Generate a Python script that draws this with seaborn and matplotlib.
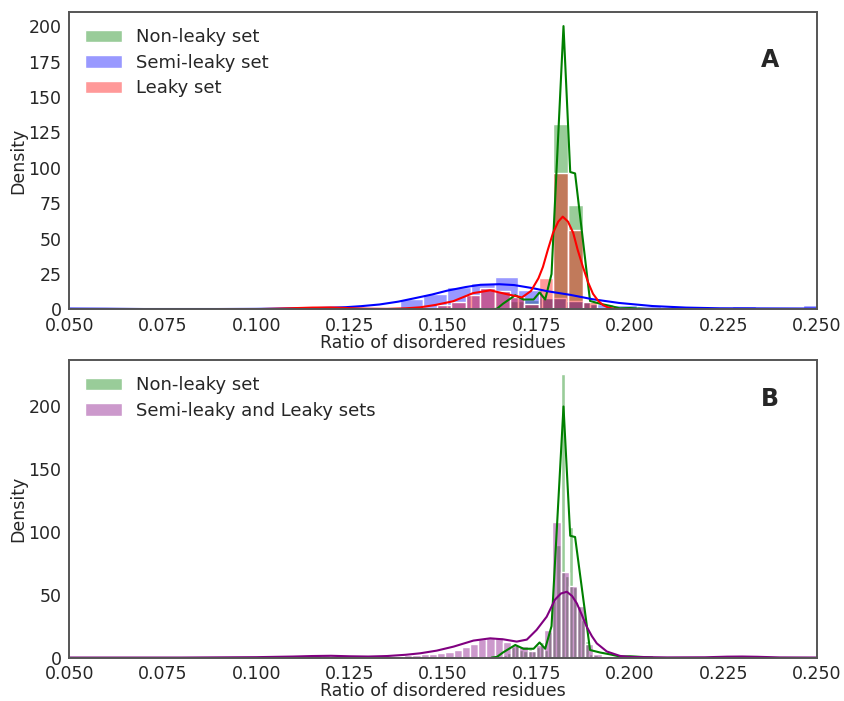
import numpy as np
import pandas as pd
import seaborn as sns
import matplotlib
matplotlib.use("Agg")
import matplotlib.pyplot as plt
from matplotlib.ticker import MultipleLocator

# ---- histogram bins (start, width) and bar heights ----
# Panel A
GREEN_A_START, GREEN_A_W = 0.1639, 0.0039
GREEN_A_H = [2, 6, 7, 8, 131, 74, 5, 2, 1, 0.5]

BLUE_A_START, BLUE_A_W = 0.0495, 0.00635
BLUE_A_H = [1, 0, 0, 0, 0, 0, 0, 0, 0, 0, 0, 1.5, 0, 0, 7.7, 11, 15.5, 19,
            23, 14, 8, 6, 4, 3, 2.3, 1, 0.5, 0, 2.5, 0, 0, 3]

RED_A_START, RED_A_W = 0.1093, 0.0039
RED_A_H = [1.0, 1.2, 1.0, 0.5, 0, 0, 0, 0, 0.5, 1, 3, 5, 10, 15, 13, 9, 4,
           22, 96, 56, 5, 1]

# Panel B
GREEN_B_START, GREEN_B_W = 0.1660, 0.0011
GREEN_B_H = [2, 4, 8, 10, 6, 5, 7, 5, 8, 12, 6, 20, 45, 90, 226, 65, 104, 56,
             41, 30, 13, 3, 2, 1, 1, 0.5, 0, 0, 0.5]

PURPLE_B_START, PURPLE_B_W = 0.1088, 0.0022
PURPLE_B_H = [0.5, 1, 1.5, 2, 2, 1.5, 1, 0.5, 0, 0, 0.5, 1, 1, 1.5, 2, 2,
              2.5, 3, 3.5, 4.5, 6, 8, 11, 15, 16, 16, 12, 10, 9, 5, 10, 22,
              108, 68, 57, 41, 11, 3, 1, 0.5,
              0, 0, 0, 0, 0, 0, 0, 0, 0, 0, 0, 0, 0, 0, 1, 0]

# ---- density curves ----
GREEN_KDE_X = [0.1630, 0.1644, 0.1660, 0.1693, 0.1715, 0.1742, 0.1758, 0.1773,
               0.1790, 0.1822, 0.1840, 0.1853, 0.1893, 0.1920, 0.1947, 0.1973,
               0.2000, 0.2030, 0.2060]
GREEN_KDE_Y = [0, 0.5, 4, 10, 7, 7, 12, 7, 25, 200, 97, 96, 6, 4, 2.5, 0.8,
               1.0, 0.5, 0]

BLUE_KDE_X = [0.05, 0.06, 0.07, 0.08, 0.09, 0.10, 0.11, 0.115, 0.12, 0.124,
              0.128, 0.133, 0.138, 0.142, 0.147, 0.151, 0.156, 0.160, 0.165,
              0.169, 0.174, 0.178, 0.184, 0.190, 0.197, 0.206, 0.215, 0.224,
              0.235, 0.25]
BLUE_KDE_Y = [0.6, 0.5, 0.3, 0.3, 0.3, 0.4, 0.7, 0.9, 1.2, 1.6, 2.3, 3.5, 5.5,
              7.7, 10.5, 13.2, 15.8, 17.4, 17.8, 17.2, 15.0, 12.8, 10.3, 7.2,
              4.6, 2.4, 1.3, 0.8, 0.7, 0.6]

RED_KDE_X = [0.09, 0.10, 0.105, 0.11, 0.115, 0.12, 0.125, 0.13, 0.135, 0.14,
             0.1439, 0.148, 0.1527, 0.158, 0.1626, 0.167, 0.1711, 0.1735,
             0.1755, 0.1767, 0.178, 0.1794, 0.1808, 0.182, 0.1834, 0.1848,
             0.186, 0.1874, 0.1888, 0.1901, 0.1915, 0.1928, 0.1942, 0.1955,
             0.198]
RED_KDE_Y = [0, 0.2, 0.5, 0.9, 1.3, 1.4, 0.9, 0.5, 0.4, 0.8, 1.5, 3.2, 5.8,
             11.5, 13.5, 10.8, 8.5, 13, 22, 30, 42, 54, 62, 65.5, 62, 54, 42,
             30, 19, 11, 6, 3, 1.3, 0.5, 0]

PURPLE_KDE_X = [0.05, 0.08, 0.10, 0.11, 0.115, 0.12, 0.125, 0.13, 0.135, 0.14,
                0.1439, 0.1483, 0.1528, 0.1581, 0.1626, 0.1661, 0.1697, 0.1724,
                0.175, 0.1777, 0.1799, 0.1815, 0.1831, 0.1845, 0.1858, 0.1871,
                0.1884, 0.1898, 0.1911, 0.1938, 0.1973, 0.2, 0.21, 0.22, 0.226,
                0.23, 0.234, 0.24, 0.25]
PURPLE_KDE_Y = [0, 0, 0.3, 0.8, 1.2, 1.4, 1.0, 0.8, 1.2, 2.2, 3.4, 5.5, 8.7,
                13.5, 15.3, 14.5, 12.7, 14.3, 22, 32.5, 46, 51, 52.4, 49, 43,
                34, 24.6, 17, 11.3, 4.8, 1.3, 0.5, 0.1, 0.2, 0.7, 0.8, 0.6,
                0.1, 0]

XTICKS = [0.050, 0.075, 0.100, 0.125, 0.150, 0.175, 0.200, 0.225, 0.250]


def hist_from_bins(ax, start, width, heights, color, label):
    """Draw pre-binned bar heights through seaborn's histplot (weights = height)."""
    n = len(heights)
    edges = [start + width * i for i in range(n + 1)]
    df = pd.DataFrame({
        "x": [(edges[i] + edges[i + 1]) / 2 for i in range(n)],
        "w": [float(h) for h in heights],
    })
    sns.histplot(data=df, x="x", weights="w", bins=edges, stat="count",
                 color=color, alpha=0.4, edgecolor="white", linewidth=1,
                 label=label, ax=ax)


def style_axis(ax, ymax, ystep, letter, letter_y):
    ax.set_xlim(0.05, 0.25)
    ax.set_ylim(0, ymax)
    ax.yaxis.set_major_locator(MultipleLocator(ystep))
    ax.set_xticks(XTICKS)
    ax.set_xticklabels([f"{t:.3f}" for t in XTICKS])
    ax.tick_params(axis="both", pad=2)
    ax.set_xlabel("Ratio of disordered residues", labelpad=-1)
    ax.set_ylabel("Density", labelpad=1)
    for s in ax.spines.values():
        s.set_color("#555555")
        s.set_linewidth(1.4)
    ax.text(0.937, letter_y, letter, transform=ax.transAxes, ha="center",
            va="center", fontsize=17, fontweight="heavy", color="#262626")
    ax.legend(loc="upper left", frameon=False, handlelength=2.0,
              handletextpad=0.8, labelspacing=0.42, fontsize=13)


sns.set_style("white")
plt.rcParams.update({"font.family": ["DejaVu Sans"], "font.size": 12.5,
                     "xtick.labelsize": 12.5, "ytick.labelsize": 12.5,
                     "axes.labelsize": 12.5})

fig, (ax1, ax2) = plt.subplots(2, 1, figsize=(8.44, 7.01), dpi=100)
fig.subplots_adjust(left=0.082, right=0.968, top=0.983, bottom=0.062,
                    hspace=0.17)

# Panel A
hist_from_bins(ax1, GREEN_A_START, GREEN_A_W, GREEN_A_H, "green", "Non-leaky set")
sns.lineplot(x=GREEN_KDE_X, y=GREEN_KDE_Y, color="green", lw=1.5, ax=ax1)
hist_from_bins(ax1, BLUE_A_START, BLUE_A_W, BLUE_A_H, "blue", "Semi-leaky set")
sns.lineplot(x=BLUE_KDE_X, y=BLUE_KDE_Y, color="blue", lw=1.5, ax=ax1)
hist_from_bins(ax1, RED_A_START, RED_A_W, RED_A_H, "red", "Leaky set")
sns.lineplot(x=RED_KDE_X, y=RED_KDE_Y, color="red", lw=1.5, ax=ax1)
style_axis(ax1, 210, 25, "A", 0.839)

# Panel B
hist_from_bins(ax2, GREEN_B_START, GREEN_B_W, GREEN_B_H, "green", "Non-leaky set")
sns.lineplot(x=GREEN_KDE_X, y=GREEN_KDE_Y, color="green", lw=1.5, ax=ax2)
hist_from_bins(ax2, PURPLE_B_START, PURPLE_B_W, PURPLE_B_H, "purple",
               "Semi-leaky and Leaky sets")
sns.lineplot(x=PURPLE_KDE_X, y=PURPLE_KDE_Y, color="purple", lw=1.5, ax=ax2)
style_axis(ax2, 237, 50, "B", 0.87)

fig.savefig("out.png", dpi=100)
